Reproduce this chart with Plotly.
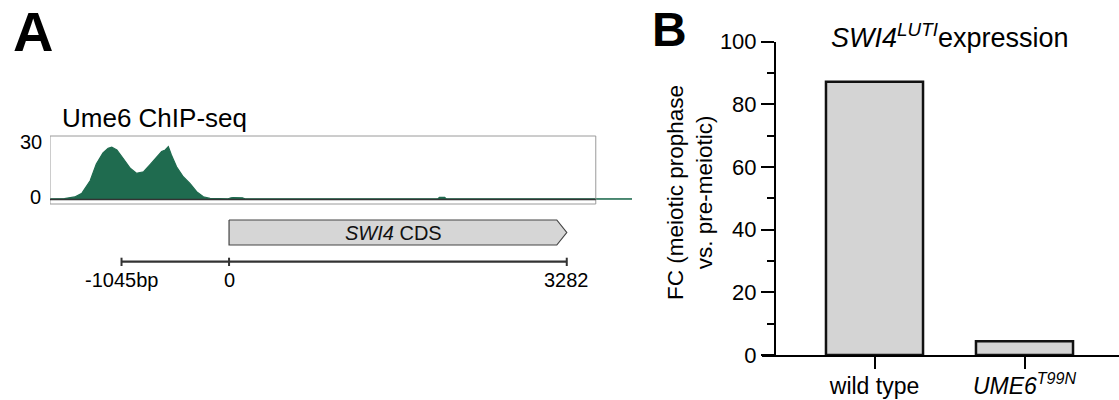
import plotly.graph_objects as go

W, H = 1119, 400
FONT = "Liberation Sans, Arial, sans-serif"

# ---------------- Panel A data ----------------
chip_pos = [-1740, -1600, -1500, -1430, -1350, -1290, -1225, -1175, -1140, -1090,
            -1030, -960, -900, -830, -770, -700, -655, -620, -590, -560,
            -510, -445, -380, -315, -250, -185, -120, -10, 20, 40,
            130, 155, 2030, 2045, 2095, 2110, 3916]
chip_val = [0.3, 0.4, 1.2, 3.0, 9.0, 17.0, 22.4, 24.6, 25.1, 23.8,
            19.8, 15.0, 12.6, 13.3, 16.6, 20.6, 23.0, 23.8, 25.4, 21.4,
            15.7, 10.9, 7.7, 3.7, 1.3, 0.5, 0.3, 0.3, 0.8, 0.9,
            0.8, 0.3, 0.3, 1.0, 1.0, 0.3, 0.3]
view_start, view_end = -1740, 3564          # genomic window of the track box
cds_start, cds_end = 0, 3282
cds_label = "<i>SWI4</i> CDS"
scale_ticks = [-1045, 0, 3282]
scale_labels = ["-1045bp", "0", "3282"]
track_ticks = [0, 30]
track_label = "Ume6 ChIP-seq"

# ---------------- Panel B data ----------------
categories = ["wild type", "<i>UME6<sup>T99N</sup></i>"]
fc_values = [87.2, 4.4]
b_title = "<i>SWI4<sup>LUTI</sup></i>expression"
b_ytitle = "FC (meiotic prophase<br>vs. pre-meiotic)"


def px(x):
    return x / W


def py(y):
    return 1 - y / H


GREEN = "#1f6b4f"
fig = go.Figure()

# ChIP-seq track
fig.add_trace(go.Scatter(x=chip_pos, y=chip_val, xaxis="x2", yaxis="y2",
                         mode="lines", fill="tozeroy", fillcolor=GREEN,
                         line=dict(color=GREEN, width=1.2), hoverinfo="skip"))

# CDS arrow (y3 axis: arbitrary units, 0..90)
head = 97
top, bot = 80, 55
mid = (top + bot) / 2
fig.add_trace(go.Scatter(x=[cds_start, cds_end - head, cds_end, cds_end - head, cds_start, cds_start],
                         y=[top, top, mid, bot, bot, top], xaxis="x2", yaxis="y3",
                         mode="lines", fill="toself", fillcolor="#d6d6d6",
                         line=dict(color="#444444", width=1.2), hoverinfo="skip"))

# scale bar
bar_y = 38.3
fig.add_trace(go.Scatter(x=[scale_ticks[0], scale_ticks[-1]], y=[bar_y, bar_y], xaxis="x2", yaxis="y3",
                         mode="lines", line=dict(color="#333333", width=2.2), hoverinfo="skip"))
tx, ty = [], []
for t in scale_ticks:
    tx += [t, t, None]
    ty += [bar_y - 4.3, bar_y + 4.0, None]
fig.add_trace(go.Scatter(x=tx, y=ty, xaxis="x2", yaxis="y3", mode="lines",
                         line=dict(color="#333333", width=2), hoverinfo="skip"))

# Bars (panel B)
fig.add_trace(go.Bar(x=categories, y=fc_values, width=0.647,
                     marker=dict(color="#d4d4d4", line=dict(color="#111111", width=2.5)),
                     hoverinfo="skip"))

shapes = [
    dict(type="rect", xref="x2", yref="y2 domain", x0=view_start, x1=view_end, y0=0, y1=1,
         line=dict(color="#9a9a9a", width=1), layer="above"),
    dict(type="line", xref="x2", yref="y2", x0=view_start, x1=view_end, y0=0, y1=0,
         line=dict(color="#333333", width=1.5), layer="above"),
]

annotations = [
    dict(text="<b>A</b>", x=px(32.5), y=py(31), xref="paper", yref="paper",
         showarrow=False, xanchor="center", yanchor="middle", font=dict(size=56, color="black")),
    dict(text="<b>B</b>", x=px(669.7), y=py(30), xref="paper", yref="paper",
         showarrow=False, xanchor="center", yanchor="middle", font=dict(size=48, color="black")),
    dict(text=track_label, x=px(60), y=py(118), xref="paper", yref="paper",
         showarrow=False, xanchor="left", yanchor="middle", font=dict(size=26, color="black")),
    dict(text=str(track_ticks[1]), x=px(44), y=py(142.5), xref="paper", yref="paper",
         showarrow=False, xanchor="right", yanchor="middle", font=dict(size=20, color="black")),
    dict(text=str(track_ticks[0]), x=px(43), y=py(197), xref="paper", yref="paper",
         showarrow=False, xanchor="right", yanchor="middle", font=dict(size=20, color="black")),
    dict(text=cds_label, x=(cds_start + cds_end) / 2 - 40, y=mid, xref="x2", yref="y3",
         showarrow=False, xanchor="center", yanchor="middle", font=dict(size=20, color="#111111")),
    dict(text=b_title, x=px(950), y=py(36), xref="paper", yref="paper",
         showarrow=False, xanchor="center", yanchor="middle", font=dict(size=27, color="black")),
    dict(text=b_ytitle, x=px(690), y=py(193), xref="paper", yref="paper", textangle=-90,
         showarrow=False, xanchor="center", yanchor="middle", font=dict(size=22.5, color="black")),
]
for t, lab in zip(scale_ticks, scale_labels):
    annotations.append(dict(text=lab, x=t, y=20, xref="x2", yref="y3", showarrow=False,
                            xanchor="center", yanchor="middle", font=dict(size=20, color="black")))

fig.update_layout(
    width=W, height=H, margin=dict(l=0, r=0, t=0, b=0, pad=0, autoexpand=False),
    paper_bgcolor="white", plot_bgcolor="white", showlegend=False,
    font=dict(family=FONT, color="black"),
    xaxis=dict(domain=[px(762), 1.0], range=[-0.75, 1.63], anchor="y",
               showline=True, linecolor="black", linewidth=2,
               ticks="outside", ticklen=12, tickwidth=2, tickcolor="black",
               ticklabelstandoff=-3,
               tickfont=dict(size=23), showgrid=False, zeroline=False, automargin=False),
    yaxis=dict(domain=[py(355), py(41.7)], range=[0, 100], anchor="free", position=px(775),
               showline=True, linecolor="black", linewidth=2,
               ticks="outside", ticklen=13, tickwidth=2, tickcolor="black", dtick=20,
               minor=dict(dtick=10, ticks="outside", ticklen=7, tickwidth=2, tickcolor="black"),
               tickfont=dict(size=22), showgrid=False, zeroline=False, automargin=False),
    xaxis2=dict(domain=[px(50), px(632)], range=[-1740, 3916], anchor="y2",
                visible=False, showgrid=False, zeroline=False),
    yaxis2=dict(domain=[py(204), py(136)], range=[-2.2, 30.5], anchor="x2",
                visible=False, showgrid=False, zeroline=False),
    yaxis3=dict(domain=[py(300), py(210)], range=[0, 90], anchor="x2",
                visible=False, showgrid=False, zeroline=False),
    shapes=shapes, annotations=annotations,
)

fig.write_html("out.html", config={"displayModeBar": False, "staticPlot": True},
               post_script="document.body.style.margin='0px';")
